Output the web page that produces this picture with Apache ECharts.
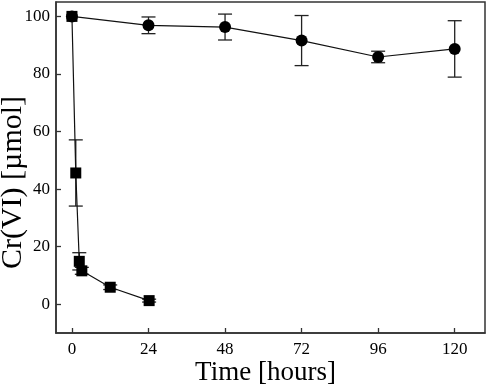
<!DOCTYPE html>
<html><head><meta charset="utf-8">
<script src="https://cdn.jsdelivr.net/npm/echarts@6/dist/echarts.min.js"></script>
<style>html,body{margin:0;padding:0;background:#fff}#c{width:490px;height:386px}</style>
</head><body><div id="c"></div>
<script>
// Circle series (control)
const circleTime = [0, 24, 48, 72, 96, 120];
const circleValue = [100, 96.9, 96.3, 91.6, 85.9, 88.7];
const circleErr = [0, 2.9, 4.5, 8.7, 2.0, 9.8];
// Square series
const squareTime = [0, 1.2, 2.3, 3.1, 12, 24.2];
const squareValue = [100, 45.6, 14.9, 11.6, 5.9, 1.25];
const squareErr = [0, 11.5, 3.0, 1.2, 0.8, 0.5];
// Tick labels
const xTicks = [0, 24, 48, 72, 96, 120];
const yTicks = [0, 20, 40, 60, 80, 100];

const circleData = circleTime.map((t, i) => [t, circleValue[i]]);
const squareData = squareTime.map((t, i) => [t, squareValue[i]]);
const errData = [];
circleTime.forEach((t, i) => { if (circleErr[i] > 0) errData.push([t, circleValue[i] - circleErr[i], circleValue[i] + circleErr[i]]); });
squareTime.forEach((t, i) => { if (squareErr[i] > 0) errData.push([t, squareValue[i] - squareErr[i], squareValue[i] + squareErr[i]]); });

const font = 'Liberation Serif';
const chart = echarts.init(document.getElementById('c'));
chart.setOption({
  animation: false,
  grid: { left: 56, right: 5, top: 2, bottom: 53, containLabel: false, outerBoundsMode: 'none',
          show: true, borderColor: '#333', borderWidth: 1.5, backgroundColor: 'transparent' },
  xAxis: {
    type: 'value', min: -5, max: 129.5,
    name: 'Time [hours]', nameLocation: 'middle', nameGap: 26, nameMoveOverlap: false,
    nameTextStyle: { fontFamily: font, fontSize: 27, color: '#000', verticalAlign: 'top', padding: [0, 10, 0, 0] },
    axisLine: { show: true, onZero: false, lineStyle: { color: '#333', width: 1.5 } },
    axisTick: { show: true, inside: true, length: 5, lineStyle: { color: '#333', width: 1.3 }, customValues: xTicks },
    axisLabel: { customValues: xTicks, fontFamily: font, fontSize: 17, color: '#000', margin: 8 },
    splitLine: { show: false }
  },
  yAxis: {
    type: 'value', min: -10, max: 105,
    name: 'Cr(VI) [µmol]', nameLocation: 'middle', nameGap: 28, nameRotate: 90, nameMoveOverlap: false,
    nameTextStyle: { fontFamily: font, fontSize: 30, color: '#000', verticalAlign: 'bottom', padding: [0, 30, 0, 0] },
    axisLine: { show: true, onZero: false, lineStyle: { color: '#333', width: 1.5 } },
    axisTick: { show: true, inside: true, length: 5, lineStyle: { color: '#333', width: 1.3 }, customValues: yTicks },
    axisLabel: { customValues: yTicks, fontFamily: font, fontSize: 17, color: '#000', margin: 6 },
    splitLine: { show: false }
  },
  series: [
    {
      type: 'custom', data: errData, z: 1,
      renderItem: function (params, api) {
        const x = api.value(0);
        const lo = api.coord([x, api.value(1)]);
        const hi = api.coord([x, api.value(2)]);
        const hw = 7;
        const st = { stroke: '#222', lineWidth: 1.3 };
        return { type: 'group', children: [
          { type: 'line', shape: { x1: lo[0], y1: lo[1], x2: hi[0], y2: hi[1] }, style: st },
          { type: 'line', shape: { x1: lo[0] - hw, y1: lo[1], x2: lo[0] + hw, y2: lo[1] }, style: st },
          { type: 'line', shape: { x1: hi[0] - hw, y1: hi[1], x2: hi[0] + hw, y2: hi[1] }, style: st }
        ]};
      }
    },
    {
      type: 'line', data: circleData, symbol: 'circle', symbolSize: 12, z: 3,
      lineStyle: { color: '#111', width: 1.2 }, itemStyle: { color: '#000' }
    },
    {
      type: 'line', data: squareData, symbol: 'rect', symbolSize: 11, z: 4,
      lineStyle: { color: '#111', width: 1.2 }, itemStyle: { color: '#000' }
    }
  ]
});
</script></body></html>
